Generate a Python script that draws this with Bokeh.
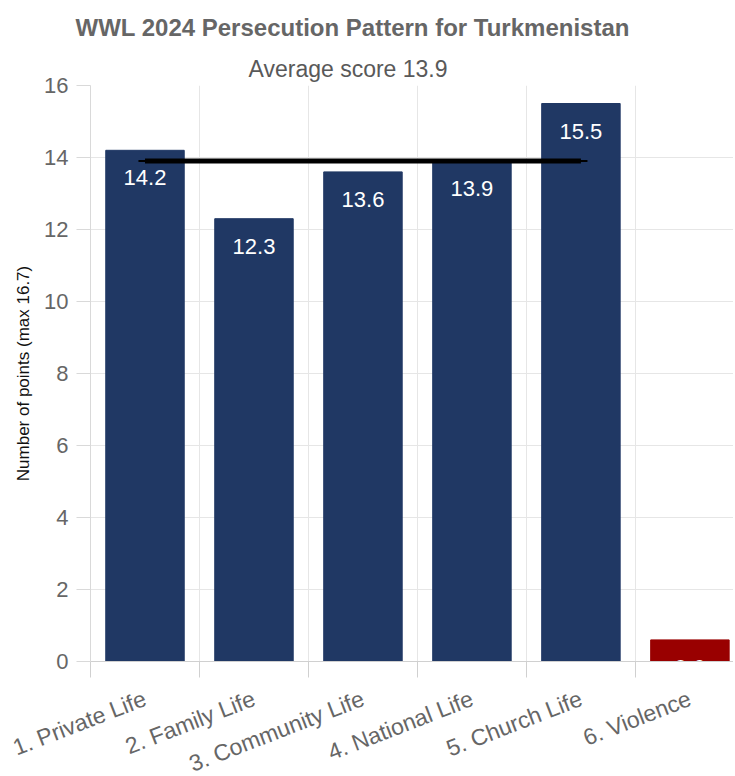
from bokeh.plotting import figure
from bokeh.models import Range1d, FixedTicker, Title, ColumnDataSource
from bokeh.embed import file_html
from bokeh.resources import INLINE

# ---- data ----
categories = ["1. Private Life", "2. Family Life", "3. Community Life",
              "4. National Life", "5. Church Life", "6. Violence"]
scores = [14.2, 12.3, 13.6, 13.9, 15.5, 0.6]
bar_colors = ["#203864", "#203864", "#203864", "#203864", "#203864", "#990000"]
average = 13.9
avg_first_cat = 0   # average line spans from category index 0 ...
avg_last_cat = 4    # ... to category index 4
y_ticks = [0, 2, 4, 6, 8, 10, 12, 14, 16]
title_text = "WWL 2024 Persecution Pattern for Turkmenistan"
subtitle_text = "Average score 13.9"
y_label = "Number of points (max 16.7)"

FONT = "Liberation Sans"
GRAY = "#666666"

centers = [i + 0.5 for i in range(len(categories))]
bounds = list(range(len(categories) + 1))

p = figure(width=733, height=776, frame_width=643, frame_height=576,
           x_range=Range1d(0, 5.9), y_range=Range1d(0, 16),
           output_backend="svg", toolbar_location=None, title=None,
           min_border_left=90, min_border_top=85, min_border_right=0,
           min_border_bottom=10)
p.outline_line_color = None
p.background_fill_color = "white"
p.border_fill_color = "white"

src = ColumnDataSource(dict(x=centers, top=scores, color=bar_colors,
                            label=[f"{v:.1f}" for v in scores]))
p.vbar(x="x", top="top", width=0.72, bottom=0, fill_color="color",
       line_color="color", line_width=1, source=src)

p.text(x="x", y="top", text="label", source=src, text_color="white",
       text_font={"value": FONT}, text_font_size="22px", text_align="center",
       text_baseline="top", y_offset=20)

# average line
x0 = centers[avg_first_cat]
x1 = centers[avg_last_cat]
p.line(x=[x0 - 0.06, x1 + 0.06], y=[average, average], line_color="black", line_width=2)
p.line(x=[x0, x1], y=[average, average], line_color="black", line_width=5)

# axes
xa = p.xaxis[0]
xa.ticker = FixedTicker(ticks=centers, minor_ticks=bounds)
xa.major_label_overrides = {c: n for c, n in zip(centers, categories)}
xa.major_label_orientation = 0.37
xa.major_tick_line_color = None
xa.major_tick_out = 0
xa.major_tick_in = 0
xa.minor_tick_out = 16
xa.minor_tick_in = 0
xa.minor_tick_line_color = "#d0d0d0"
xa.axis_line_color = "#d0d0d0"
xa.major_label_standoff = 20
xa.major_label_text_font = FONT
xa.major_label_text_font_size = "23px"
xa.major_label_text_color = GRAY

ya = p.yaxis[0]
ya.ticker = FixedTicker(ticks=y_ticks)
ya.minor_tick_line_color = None
ya.major_tick_out = 14
ya.major_tick_in = 0
ya.major_tick_line_color = "#d9d9d9"
ya.axis_line_color = "#d9d9d9"
ya.major_label_standoff = 8
ya.major_label_text_font = FONT
ya.major_label_text_font_size = "22px"
ya.major_label_text_color = GRAY
ya.axis_label = y_label
ya.axis_label_text_font = FONT
ya.axis_label_text_font_size = "17px"
ya.axis_label_text_font_style = "normal"
ya.axis_label_text_color = "#111111"
ya.axis_label_standoff = 8

p.xgrid.ticker = FixedTicker(ticks=bounds)
p.xgrid.grid_line_color = "#e6e6e6"
p.ygrid.grid_line_color = "#e6e6e6"

# titles: subtitle first (closest to plot), then main title above it
p.add_layout(Title(text=subtitle_text, align="left", offset=158,
                   text_font=FONT, text_font_size="23px", text_font_style="normal",
                   text_color="#595959", standoff=8), "above")
p.add_layout(Title(text=title_text, align="left", offset=-15,
                   text_font=FONT, text_font_size="24px", text_font_style="bold",
                   text_color=GRAY, standoff=18), "above")

open("out.html", "w").write(file_html(p, INLINE))
